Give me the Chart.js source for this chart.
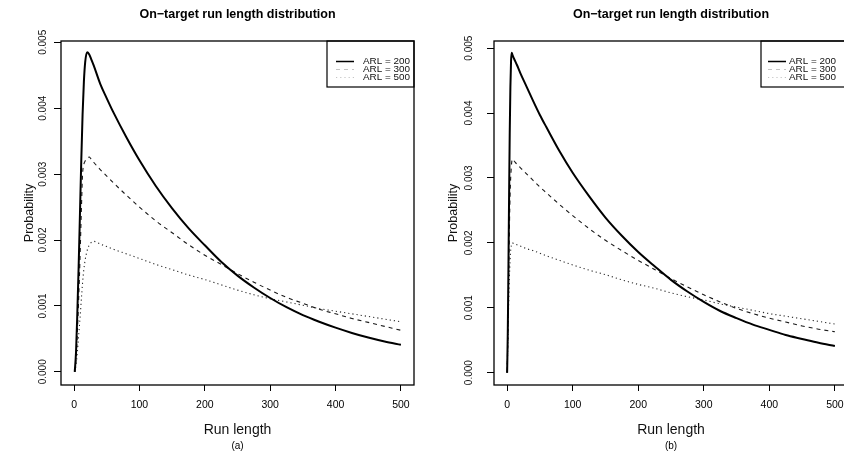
<!DOCTYPE html>
<html>
<head>
<meta charset="utf-8">
<script src="https://cdn.jsdelivr.net/npm/chart.js@4.4.1/dist/chart.umd.min.js"></script>
<style>
  html, body { margin: 0; padding: 0; background: #fff; overflow: hidden; }
  #wrap { position: relative; width: 844px; height: 454px; overflow: hidden; }
  canvas { position: absolute; top: 0; }
</style>
</head>
<body>
<div id="wrap">
  <canvas id="panelA" width="422" height="454" style="left:0"></canvas>
  <canvas id="panelB" width="440" height="454" style="left:422px"></canvas>
</div>
<script>
// Textes et graduations communs aux deux graphiques
const titleText = "On\u2212target run length distribution";
const xTicks = [0, 100, 200, 300, 400, 500];
const yTicks = [0, 0.001, 0.002, 0.003, 0.004, 0.005];
const yTickLabels = ["0.000", "0.001", "0.002", "0.003", "0.004", "0.005"];
const legendLabels = ["ARL = 200", "ARL = 300", "ARL = 500"];

// Panneau (a) : valeurs
const runLengthA = [1, 3, 5, 7, 9, 11, 13, 15, 17, 20, 23, 26, 30, 40, 50, 60, 80, 100, 125, 150, 175, 200, 225, 250, 275, 300, 325, 350, 375, 400, 425, 450, 475, 500];
const arl200A = [0, 0.0003, 0.0009, 0.0016, 0.0024, 0.0032, 0.0039, 0.0044, 0.0047, 0.00485, 0.00482, 0.00475, 0.00465, 0.00437, 0.00415, 0.00394, 0.00356, 0.00321, 0.00282, 0.00248, 0.00218, 0.00192, 0.00167, 0.00146, 0.00128, 0.00112, 0.00098, 0.00086, 0.00076, 0.00067, 0.00059, 0.00052, 0.00046, 0.00041];
const arl300A = [0, 0.0002, 0.0006, 0.0011, 0.0017, 0.0024, 0.0030, 0.00315, 0.0032, 0.00324, 0.00326, 0.00323, 0.00318, 0.00307, 0.00297, 0.00287, 0.00268, 0.00250, 0.00229, 0.00211, 0.00193, 0.00177, 0.00163, 0.00149, 0.00136, 0.00124, 0.00113, 0.00104, 0.00095, 0.00088, 0.00081, 0.00075, 0.00069, 0.00063];
const arl500A = [0, 0.0001, 0.0003, 0.00055, 0.0008, 0.00108, 0.00135, 0.00156, 0.0017, 0.00184, 0.00192, 0.00196, 0.00198, 0.00194, 0.00190, 0.00186, 0.00179, 0.00172, 0.00163, 0.00155, 0.00147, 0.00140, 0.00132, 0.00124, 0.00117, 0.00111, 0.00106, 0.00101, 0.00096, 0.00092, 0.00088, 0.00084, 0.00080, 0.00076];

// Panneau (b)
const runLengthB = [0, 1, 2, 3, 4, 5, 6, 7, 8, 10, 15, 20, 30, 40, 50, 60, 80, 100, 125, 150, 175, 200, 225, 250, 275, 300, 325, 350, 375, 400, 425, 450, 475, 500];
const arl200B = [0, 0.0006, 0.0016, 0.0027, 0.0037, 0.0044, 0.0048, 0.00493, 0.0049, 0.00485, 0.00474, 0.00462, 0.00440, 0.00418, 0.00397, 0.00378, 0.00341, 0.00308, 0.00272, 0.00239, 0.00211, 0.00186, 0.00164, 0.00143, 0.00125, 0.00109, 0.00095, 0.00084, 0.00074, 0.00066, 0.00058, 0.00052, 0.00046, 0.00041];
const arl300B = [0, 0.0005, 0.0012, 0.0019, 0.0025, 0.0029, 0.0031, 0.00324, 0.00329, 0.00327, 0.00321, 0.00316, 0.00306, 0.00296, 0.00286, 0.00277, 0.00259, 0.00242, 0.00222, 0.00204, 0.00188, 0.00173, 0.00159, 0.00145, 0.00132, 0.00120, 0.00109, 0.00099, 0.00091, 0.00084, 0.00078, 0.00072, 0.00067, 0.00063];
const arl500B = [0, 0.0004, 0.0009, 0.0013, 0.0016, 0.00182, 0.00193, 0.00198, 0.0020, 0.00199, 0.00197, 0.00195, 0.00191, 0.00188, 0.00184, 0.00180, 0.00173, 0.00166, 0.00158, 0.00151, 0.00143, 0.00136, 0.00130, 0.00123, 0.00117, 0.00112, 0.00106, 0.00101, 0.00096, 0.00091, 0.00087, 0.00083, 0.00079, 0.00075];

Chart.defaults.font.family = "'Liberation Sans', Arial, Helvetica, sans-serif";
Chart.defaults.color = "#111";

// Style des trois courbes : plein, tirets, pointillés
const lineStyles = [
  { borderColor: "#000", borderWidth: 2, borderDash: [] },
  { borderColor: "#1a1a1a", borderWidth: 1.1, borderDash: [4, 4] },
  { borderColor: "#2a2a2a", borderWidth: 1.1, borderDash: [1.2, 3] },
];

// Cadre, étiquettes de l'axe y (tournées) et légende
const extras = {
  id: "extras",
  afterDatasetsDraw(chart, args, o) {
    const { ctx, chartArea: a, scales } = chart;
    ctx.save();
    ctx.strokeStyle = "#000";
    ctx.lineWidth = 1.3;
    ctx.strokeRect(a.left, a.top, a.right - a.left, a.bottom - a.top);

    ctx.fillStyle = "#111";
    ctx.font = "10px 'Liberation Sans', Arial, sans-serif";
    ctx.textAlign = "center";
    ctx.textBaseline = "middle";
    yTicks.forEach((v, i) => {
      const y = scales.y.getPixelForValue(v);
      ctx.save();
      ctx.translate(o.yLabelX, y);
      ctx.rotate(-Math.PI / 2);
      ctx.fillText(yTickLabels[i], 0, 0);
      ctx.restore();
    });

    // légende en haut à droite
    const w = 87, h = 46;
    const lx = a.right - w, ly = a.top;
    ctx.lineWidth = 1.2;
    ctx.strokeRect(lx, ly, w, h);
    ctx.font = "9px 'Liberation Sans', Arial, sans-serif";
    ctx.textAlign = "left";
    const rows = [20.5, 28.5, 36.5];
    legendLabels.forEach((lab, i) => {
      const y = ly + rows[i];
      ctx.save();
      ctx.strokeStyle = i === 0 ? "#000" : "#c4c4c4";
      ctx.lineWidth = i === 0 ? 1.5 : 1;
      ctx.setLineDash(lineStyles[i].borderDash);
      ctx.beginPath();
      ctx.moveTo(lx + o.sampleX[0], y);
      ctx.lineTo(lx + o.sampleX[1], y);
      ctx.stroke();
      ctx.restore();
      ctx.save();
      ctx.translate(lx + o.textX, y);
      ctx.scale(1.1, 1);
      ctx.fillStyle = "#111";
      ctx.fillText(lab, 0, 0);
      ctx.restore();
    });
    ctx.restore();
  },
};

function makePanel(id, runLength, series, o) {
  const datasets = series.map((vals, i) => ({
    label: legendLabels[i],
    data: runLength.map((x, j) => ({ x: x, y: vals[j] })),
    borderColor: lineStyles[i].borderColor,
    borderWidth: lineStyles[i].borderWidth,
    borderDash: lineStyles[i].borderDash,
    pointRadius: 0,
    fill: false,
    cubicInterpolationMode: "monotone",
  }));

  return new Chart(document.getElementById(id), {
    type: "line",
    data: { datasets: datasets },
    plugins: [extras],
    options: {
      responsive: false,
      animation: false,
      devicePixelRatio: 1,
      layout: { padding: { left: 0, right: o.padRight, top: 0, bottom: 0 } },
      plugins: {
        legend: { display: false },
        tooltip: { enabled: false },
        title: {
          display: true, text: titleText, fullSize: false, color: "#000",
          font: { size: 12.5, weight: "bold" },
          padding: { top: 7, bottom: 19 },
        },
        subtitle: {
          display: true, position: "bottom", text: o.sub, fullSize: false, color: "#000",
          font: { size: 10 }, padding: { top: 0, bottom: 2 },
        },
        extras: o,
      },
      scales: {
        x: {
          type: "linear", min: -20, max: 520,
          afterBuildTicks: (s) => { s.ticks = xTicks.map((v) => ({ value: v })); },
          afterFit: (s) => { s.height = 55; },
          ticks: { font: { size: 10.5 }, color: "#000", padding: 8, autoSkip: false, maxRotation: 0, callback: (v) => String(v) },
          grid: { drawOnChartArea: false, drawTicks: true, tickLength: 6, color: "#000" },
          border: { display: false },
          title: { display: true, text: "Run length", font: { size: 14 }, padding: { top: 0, bottom: 1.6 } },
        },
        y: {
          type: "linear", min: o.yMin, max: o.yMax,
          afterBuildTicks: (s) => { s.ticks = yTicks.map((v) => ({ value: v })); },
          afterFit: (s) => { s.width = o.yAxisWidth; },
          ticks: { display: false },
          grid: { drawOnChartArea: false, drawTicks: true, tickLength: 7, color: "#000" },
          border: { display: false },
          title: { display: true, text: "Probability", font: { size: 12.5 }, padding: { top: o.yTitlePad, bottom: 0 } },
        },
      },
    },
  });
}

makePanel("panelA", runLengthA, [arl200A, arl300A, arl500A], {
  sub: "(a)", padRight: 8, yAxisWidth: 61, yTitlePad: 22.5, yLabelX: 43.5,
  yMin: -0.0002, yMax: 0.00502, sampleX: [9, 27], textX: 36,
});
makePanel("panelB", runLengthB, [arl200B, arl300B, arl500B], {
  sub: "(b)", padRight: 14, yAxisWidth: 72, yTitlePad: 24.5, yLabelX: 47.5,
  yMin: -0.00019, yMax: 0.00511, sampleX: [7, 25], textX: 28,
});
</script>
</body>
</html>
